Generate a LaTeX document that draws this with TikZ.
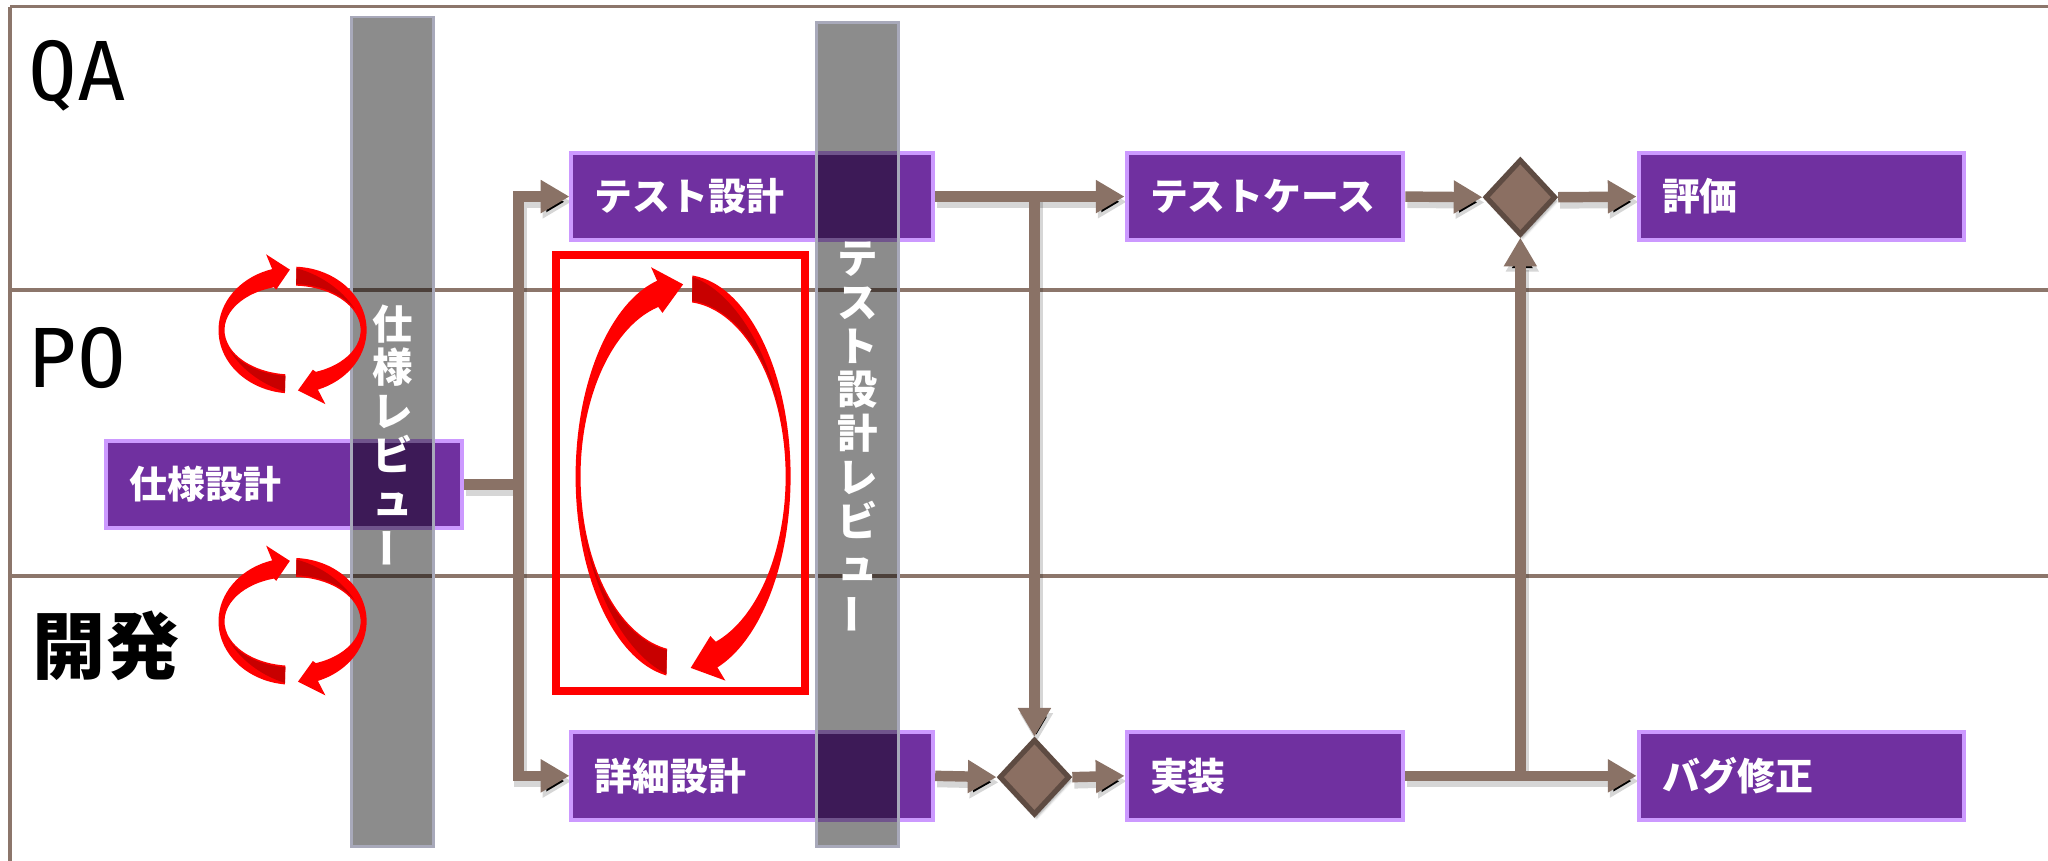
\documentclass[tikz,border=0pt]{standalone}
\usepackage{fontspec}
\usepackage{graphicx}
\usetikzlibrary{arrows.meta,shapes.geometric,calc,shadows.blur}
\newfontfamily\jp{Noto Sans CJK JP}
\newfontfamily\monolab{DejaVu Sans Mono}
\definecolor{lane}{HTML}{8C766B}
\definecolor{conncol}{HTML}{8A7266}
\definecolor{boxfill}{HTML}{7030A0}
\definecolor{boxline}{HTML}{CC99FF}
\definecolor{barline}{HTML}{A8A9BA}
\definecolor{dfill}{HTML}{8B6F62}
\definecolor{dline}{HTML}{5E4B42}
\definecolor{loopred}{HTML}{FF0000}
\definecolor{loopdark}{HTML}{C80000}
\pgfdeclarelayer{bg}
\pgfdeclarelayer{bars}
\pgfdeclarelayer{top}
\pgfsetlayers{bg,main,bars,top}
% geometry of a loop: cx cy rx ry wx wy headout headin tipout
\newcommand\cycgeom[9]{\def\gcx{#1}\def\gcy{#2}\def\grx{#3}\def\gry{#4}\def\gwx{#5}\def\gwy{#6}\def\gho{#7}\def\ghi{#8}\def\gT{#9}}
% one curved arrow: start, head base, tip, dark span
\newcommand\cycarc[4]{%
 \pgfmathsetmacro\cRox{\grx+\gwx/2}\pgfmathsetmacro\cRoy{\gry+\gwy/2}%
 \pgfmathsetmacro\cRix{\grx-\gwx/2}\pgfmathsetmacro\cRiy{\gry-\gwy/2}%
 \pgfmathsetmacro\cHox{\grx+\gho}\pgfmathsetmacro\cHoy{\gry+\gho}%
 \pgfmathsetmacro\cHix{\grx-\ghi}\pgfmathsetmacro\cHiy{\gry-\ghi}%
 \pgfmathsetmacro\cTx{\grx+\gT}\pgfmathsetmacro\cTy{\gry+\gT}%
 \pgfmathsetmacro\cDe{#1+#4}%
 \pgfmathsetmacro\cAx{\cRox-1.2}\pgfmathsetmacro\cAy{\cRoy-1.2}%
 \pgfmathsetmacro\cIx{\cRix+1.2}\pgfmathsetmacro\cIy{\cRiy+1.2}%
 \pgfmathsetmacro\cKx{(\cAx-\cIx)/#4}\pgfmathsetmacro\cKy{(\cAy-\cIy)/#4}%
 \begin{scope}[shift={(\gcx,\gcy)}]
 \fill[loopred] ({#1}:{\cRox} and {\cRoy}) arc[start angle=#1,end angle=#2,x radius=\cRox,y radius=\cRoy]
   -- ({#2}:{\cHox} and {\cHoy}) -- ({#3}:{\cTx} and {\cTy}) -- ({#2}:{\cHix} and {\cHiy})
   -- ({#2}:{\cRix} and {\cRiy}) arc[start angle=#2,end angle=#1,x radius=\cRix,y radius=\cRiy] -- cycle;
 \fill[loopdark] plot[domain=#1:\cDe,samples=40] ({(\cAx-\cKx*(\x-#1))*cos(\x)},{(\cAy-\cKy*(\x-#1))*sin(\x)})
   -- plot[domain=\cDe:#1,samples=40] ({\cIx*cos(\x)},{\cIy*sin(\x)}) -- cycle;
 \end{scope}}
\newcommand\allconns{%
 \draw[cst] (spec.east) -- (j1);
 \draw[ast] (j1) |- (tdes.west);
 \draw[ast] (j1) |- (ddes.west);
 \draw[cst] (tdes.east) -- (j2);
 \draw[ast] (j2) -- (tcase.west);
 \draw[ast] (j2) -- (d2.north);
 \draw[ast] (ddes.east) -- (d2.west);
 \draw[ast] (d2.east) -- (impl.west);
 \draw[cst] (impl.east) -- (j3);
 \draw[ast] (j3) -- (fix.west);
 \draw[ast] (j3) -- (d1.south);
 \draw[ast] (tcase.east) -- (d1.west);
 \draw[ast] (d1.east) -- (eval.west);}
\begin{document}
\begin{tikzpicture}[x=1pt,y=-1pt,
  laneline/.style={draw=lane,line width=3},
  lanelabel/.style={inner sep=0,anchor=base west,font=\monolab\fontsize{62}{62}\selectfont},
  pbox/.style={draw=boxline,fill=boxfill,line width=3,text=white,
    font=\jp\bfseries\fontsize{29}{29}\selectfont,minimum height=67,
    inner xsep=18,inner ysep=0,text width=#1,align=left},
  dia/.style={diamond,draw=dline,fill=dfill,line width=4,minimum width=54,minimum height=58,inner sep=0,
    blur shadow={shadow xshift=1.5pt,shadow yshift=-3pt,shadow opacity=35}},
  barst/.style={fill=black,fill opacity=0.45,draw=barline,line width=2,minimum width=63,inner sep=0},
  bartext/.style={text=white,font=\jp\bfseries\fontsize{31}{33.5}\selectfont,align=center,inner sep=0,anchor=north}]
\useasboundingbox (0,0) rectangle (1568,659);
% process boxes
\node[pbox=236] (spec) at (217.5,371) {仕様設計};
\node[pbox=241] (tdes) at (576,150.5) {テスト設計};
\node[pbox=241] (ddes) at (576,594) {詳細設計};
\node[pbox=176] (tcase) at (968.5,150.5) {テストケース};
\node[pbox=176] (impl) at (968.5,594) {実装};
\node[pbox=213] (eval) at (1379,150.5) {評価};
\node[pbox=213] (fix) at (1379,594) {バグ修正};
\node[dia] (d1) at (1164,151) {};
\node[dia] (d2) at (792,595) {};
\coordinate (j1) at (397,371);
\coordinate (j2) at (d2.north |- tdes.east);
\coordinate (j3) at (d1.south |- impl.east);
\begin{pgfonlayer}{bg}
 \draw[laneline] (8,5) -- (1568,5);
 \draw[laneline] (8,5) -- (8,659);
 \draw[laneline] (8,222) -- (1568,222);
 \draw[laneline] (8,441) -- (1568,441);
 \node[lanelabel] (qa) at (22,77) {QA};
 \node[lanelabel] (po) at (22,297) {PO};
 \node[inner sep=0,anchor=base west,font=\jp\bfseries\fontsize{56}{56}\selectfont] (dev) at (25,516) {開発};
 \begin{scope}[transform canvas={xshift=1.5pt,yshift=-4pt},
   cst/.style={draw=black,draw opacity=0.16,line width=9.5},
   ast/.style={cst,-{Triangle[length=22pt,width=24pt]}}]
  \allconns
 \end{scope}
 \begin{scope}[cst/.style={draw=conncol,line width=8},
   ast/.style={cst,-{Triangle[length=22pt,width=24pt]}}]
  \allconns
 \end{scope}
\end{pgfonlayer}
\begin{pgfonlayer}{bars}
 \node[barst,minimum height=635] (bar1) at (300.5,330.5) {};
 \node[barst,minimum height=631] (bar2) at (656.5,332.5) {};
\end{pgfonlayer}
\begin{pgfonlayer}{top}
 \node[bartext] (rv1) at (300.5,233) {仕\\様\\レ\\ビ\\ュ\\\rotatebox[origin=c]{90}{ー}};
 \node[bartext] (rv2) at (656.5,185) {テ\\ス\\ト\\設\\計\\レ\\ビ\\ュ\\\rotatebox[origin=c]{90}{ー}};
 \draw[loopred,line width=6.2] (426,195) rectangle (616,529);
 \cycgeom{224}{252.7}{54.4}{41.3}{4.6}{14.5}{19}{9}{5}
 \cycarc{96}{254}{268}{60}
 \cycarc{273}{430}{446}{60}
 \cycgeom{224}{475.7}{54.4}{41.3}{4.6}{14.5}{19}{9}{5}
 \cycarc{96}{254}{268}{60}
 \cycarc{273}{430}{446}{60}
 \cycgeom{523}{364.7}{80.4}{144}{3.8}{20.7}{21}{15}{3}
 \cycarc{99}{256}{270}{70}
 \cycarc{275}{431.4}{446}{70}
\end{pgfonlayer}
\end{tikzpicture}
\end{document}
